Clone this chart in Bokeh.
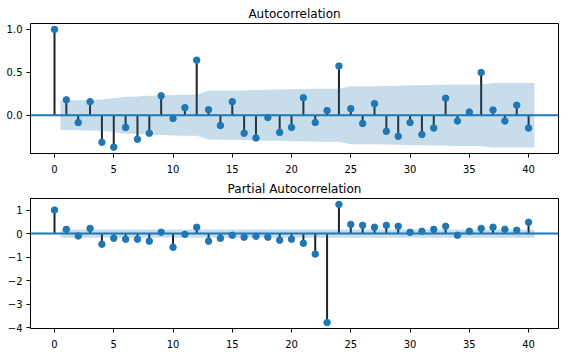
import numpy as np
from bokeh.plotting import figure
from bokeh.layouts import column
from bokeh.models import Span, FixedTicker, Range1d
from bokeh.embed import file_html
from bokeh.resources import INLINE

# ---- data ----
lags = list(range(41))
acf_values = [1.0, 0.18, -0.085, 0.158, -0.315, -0.372, -0.142, -0.28, -0.21, 0.227,
              -0.038, 0.088, 0.642, 0.065, -0.12, 0.158, -0.21, -0.265, -0.027, -0.2,
              -0.142, 0.204, -0.085, 0.054, 0.573, 0.077, -0.096, 0.135, -0.188, -0.246,
              -0.085, -0.225, -0.15, 0.198, -0.067, 0.037, 0.498, 0.06, -0.067, 0.117,
              -0.15]
# half-width of the ACF confidence band for lags 1..40
acf_band = [0.172, 0.176, 0.178, 0.182, 0.197, 0.214, 0.217, 0.226, 0.231, 0.237,
            0.238, 0.238, 0.284, 0.285, 0.286, 0.289, 0.293, 0.298, 0.298, 0.302,
            0.304, 0.308, 0.309, 0.309, 0.338, 0.339, 0.339, 0.341, 0.344, 0.349,
            0.350, 0.353, 0.355, 0.358, 0.358, 0.358, 0.376, 0.376, 0.377, 0.377]
pacf_values = [1.0, 0.18, -0.1, 0.22, -0.45, -0.2, -0.24, -0.24, -0.32, 0.06,
               -0.58, -0.03, 0.27, -0.32, -0.2, -0.07, -0.15, -0.11, -0.15, -0.28,
               -0.24, -0.41, -0.87, -3.78, 1.24, 0.39, 0.35, 0.27, 0.35, 0.31,
               0.06, 0.1, 0.18, 0.31, -0.07, 0.1, 0.22, 0.27, 0.18, 0.14,
               0.48]
pacf_band = [0.172] * 40

x_ticks = [0, 5, 10, 15, 20, 25, 30, 35, 40]
acf_yticks = [0.0, 0.5, 1.0]
acf_ylabels = ["0.0", "0.5", "1.0"]
pacf_yticks = [-4, -3, -2, -1, 0, 1]
pacf_ylabels = ["\u22124", "\u22123", "\u22122", "\u22121", "0", "1"]

BLUE = "#1f77b4"
FONT = "DejaVu Sans"


def padded(lo, hi, frac=0.05):
    d = (hi - lo) * frac
    return lo - d, hi + d


def make_fig(title, vals, band, yticks, ylabels, border_top, border_bottom):
    band = np.asarray(band, dtype=float)
    bx = np.asarray(lags[1:], dtype=float)
    bx[0] -= 0.5
    bx[-1] += 0.5
    x0, x1 = padded(0.0, float(bx[-1]))
    y0, y1 = padded(min(min(vals), float(-band.max())), max(max(vals), float(band.max())))
    p = figure(width=568, height=176, output_backend="svg", toolbar_location=None,
               x_range=Range1d(x0, x1), y_range=Range1d(y0, y1),
               min_border_left=30, min_border_right=10,
               min_border_top=border_top, min_border_bottom=border_bottom)
    p.title.text = title
    p.title.align = "center"
    p.title.text_font = FONT
    p.title.text_font_size = "12px"
    p.title.text_font_style = "normal"
    p.title.text_color = "black"
    p.title.standoff = 5
    p.xgrid.visible = False
    p.ygrid.visible = False
    p.outline_line_color = "black"
    p.outline_line_alpha = 1.0
    p.outline_line_width = 1
    p.background_fill_color = "white"
    p.border_fill_color = "white"
    for ax in (p.xaxis[0], p.yaxis[0]):
        ax.major_tick_out = 4
        ax.major_tick_in = 0
        ax.minor_tick_line_color = None
        ax.major_label_text_font = FONT
        ax.major_label_text_font_size = "10px"
        ax.major_label_text_color = "black"
        ax.axis_line_color = "black"
        ax.major_tick_line_color = "black"
    p.xaxis.major_label_standoff = 7
    p.yaxis.major_label_standoff = 4
    p.xaxis.ticker = FixedTicker(ticks=x_ticks)
    p.yaxis.ticker = FixedTicker(ticks=yticks)
    p.yaxis.major_label_overrides = {t: l for t, l in zip(yticks, ylabels)}

    p.segment(x0=lags, y0=[0] * len(lags), x1=lags, y1=vals,
              line_color="#222222", line_width=2)
    zero = Span(location=0, dimension="width", line_color=BLUE, line_width=2, level="glyph")
    p.add_layout(zero)
    p.scatter(x=lags, y=vals, size=6.5, fill_color=BLUE, line_color=BLUE)
    p.varea(x=bx, y1=-band, y2=band, fill_color=BLUE, fill_alpha=0.25)
    return p


p1 = make_fig("Autocorrelation", acf_values, acf_band, acf_yticks, acf_ylabels, 23, 23)
p2 = make_fig("Partial Autocorrelation", pacf_values, pacf_band, pacf_yticks, pacf_ylabels, 22, 24)
p = column(p1, p2, spacing=0)

open("out.html", "w").write(file_html(p, INLINE))
